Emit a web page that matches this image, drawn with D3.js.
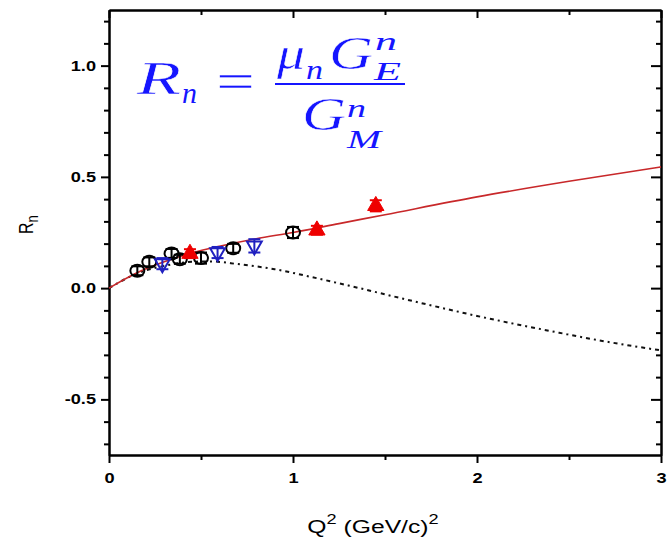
<!DOCTYPE html>
<html><head><meta charset="utf-8">
<script src="https://cdn.jsdelivr.net/npm/d3@7"></script>
<style>
body{margin:0;background:#fff;}
svg{display:block;}
.tick text{font-family:"Liberation Sans",Arial,sans-serif;font-weight:bold;font-size:14px;fill:#000;}
</style></head>
<body>
<svg id="c" width="668" height="541"></svg>
<script>
// ---- data ----
const xDomain = [0, 3];
const yDomain = [-0.75, 1.25];
const xMajorTicks = [0, 1, 2, 3];
const xMinorTicks = [0.5, 1.5, 2.5];
const yMajorTicks = [-0.5, 0.0, 0.5, 1.0];
const yMinorTicks = [-0.7,-0.6,-0.4,-0.3,-0.2,-0.1,0.1,0.2,0.3,0.4,0.6,0.7,0.8,0.9,1.1,1.2];

const circleQ2  = [0.154, 0.219, 0.340, 0.385, 0.500, 0.675, 1.000];
const circleR   = [0.078, 0.118, 0.156, 0.130, 0.135, 0.179, 0.250];
const circleErr = [0.020, 0.020, 0.020, 0.020, 0.025, 0.020, 0.025];

const triDownQ2  = [0.290, 0.590, 0.790];
const triDownR   = [0.110, 0.160, 0.190];
const triDownErr = [0.025, 0.025, 0.030];

const triUpQ2  = [0.440, 1.130, 1.450];
const triUpR   = [0.155, 0.260, 0.370];
const triUpErr = [0.020, 0.020, 0.025];

const fitQ2 = [0, 0.15, 0.30, 0.45, 0.60, 0.80, 1.00, 1.25, 1.50, 2.00, 2.50, 3.00];
const fitR  = [0, 0.068, 0.118, 0.158, 0.188, 0.222, 0.250, 0.290, 0.330, 0.410, 0.480, 0.545];

const modelQ2 = [0, 0.15, 0.30, 0.45, 0.55, 0.70, 0.90, 1.10, 1.30, 1.60, 2.00, 2.40, 2.70, 3.00];
const modelR  = [0, 0.065, 0.100, 0.118, 0.120, 0.108, 0.085, 0.050, 0.012, -0.048, -0.125, -0.193, -0.240, -0.280];

// ---- layout ----
const svg = d3.select("#c");
const L = 109, R = 661, T = 10, B = 455;
const SX = 1.3; // horizontal stretch of the original picture's text
const x = d3.scaleLinear().domain(xDomain).range([L, R]);
const y = d3.scaleLinear().domain(yDomain).range([B, T]);

function styleAxis(g){ g.select(".domain").attr("stroke","#000").attr("stroke-width",2);
  g.selectAll(".tick line").attr("stroke","#000").attr("stroke-width",2); }

const gx = svg.append("g").attr("transform",`translate(0,${B})`)
  .call(d3.axisBottom(x).tickValues(xMajorTicks).tickSize(8).tickSizeOuter(0).tickPadding(10).tickFormat(d3.format("d")));
styleAxis(gx);
gx.selectAll(".tick text").attr("transform",`scale(${SX},1)`);
const gxm = svg.append("g").attr("transform",`translate(0,${B})`)
  .call(d3.axisBottom(x).tickValues(xMinorTicks).tickSize(5).tickSizeOuter(0).tickFormat(""));
styleAxis(gxm);
const gxt = svg.append("g").attr("transform",`translate(0,${T})`)
  .call(d3.axisBottom(x).tickValues(xMajorTicks).tickSize(8).tickSizeOuter(0).tickFormat(""));
styleAxis(gxt);
const gxtm = svg.append("g").attr("transform",`translate(0,${T})`)
  .call(d3.axisBottom(x).tickValues(xMinorTicks).tickSize(5).tickSizeOuter(0).tickFormat(""));
styleAxis(gxtm);

const gy = svg.append("g").attr("transform",`translate(${L},0)`)
  .call(d3.axisLeft(y).tickValues(yMajorTicks).tickSize(8).tickSizeOuter(0).tickPadding(5).tickFormat(d3.format(".1f")));
styleAxis(gy);
gy.selectAll(".tick text").text(d => d3.format(".1f")(d).replace("−","-"))
  .attr("x", -13/SX).attr("transform",`scale(${SX},1)`);
const gym = svg.append("g").attr("transform",`translate(${L},0)`)
  .call(d3.axisLeft(y).tickValues(yMinorTicks).tickSize(5).tickSizeOuter(0).tickFormat(""));
styleAxis(gym);
const gyr = svg.append("g").attr("transform",`translate(${R},0)`)
  .call(d3.axisLeft(y).tickValues(yMajorTicks).tickSize(10).tickSizeOuter(0).tickFormat(""));
styleAxis(gyr);
const gyrm = svg.append("g").attr("transform",`translate(${R},0)`)
  .call(d3.axisLeft(y).tickValues(yMinorTicks).tickSize(5).tickSizeOuter(0).tickFormat(""));
styleAxis(gyrm);

// axis titles
const yl = svg.append("g").attr("transform",`translate(33,234) scale(${SX},1) rotate(-90)`)
  .append("text").attr("font-family","Liberation Sans, Arial, sans-serif").attr("font-size",16).attr("fill","#000");
yl.append("tspan").text("R");
yl.append("tspan").attr("font-size",13).attr("dy",4).text("n");

const xl = svg.append("g").attr("transform",`translate(373,533) scale(${SX},1)`)
  .append("text").attr("text-anchor","middle")
  .attr("font-family","Liberation Sans, Arial, sans-serif").attr("font-size",19).attr("fill","#000");
xl.append("tspan").text("Q");
xl.append("tspan").attr("font-size",14).attr("dy",-9).text("2");
xl.append("tspan").attr("dy",9).text(" (GeV/c)");
xl.append("tspan").attr("font-size",14).attr("dy",-9).text("2");

// lines
const line = d3.line().x(d=>x(d[0])).y(d=>y(d[1])).curve(d3.curveMonotoneX);
svg.append("path").datum(modelQ2.map((q,i)=>[q,modelR[i]]))
  .attr("d",line).attr("fill","none").attr("stroke","#111").attr("stroke-width",2)
  .attr("stroke-dasharray","4,4,2,4");
svg.append("path").datum(fitQ2.map((q,i)=>[q,fitR[i]]))
  .attr("d",line).attr("fill","none").attr("stroke","#c8282a").attr("stroke-width",1.6);

function errBars(qs, rs, es, color){
  const g = svg.append("g").attr("stroke",color).attr("stroke-width",2);
  qs.forEach((q,i)=>{
    const cx = x(q), y1 = y(rs[i]+es[i]), y2 = y(rs[i]-es[i]);
    g.append("line").attr("x1",cx).attr("x2",cx).attr("y1",y1).attr("y2",y2);
    g.append("line").attr("x1",cx-6).attr("x2",cx+6).attr("y1",y1).attr("y2",y1);
    g.append("line").attr("x1",cx-6).attr("x2",cx+6).attr("y1",y2).attr("y2",y2);
  });
}

// black open circles
errBars(circleQ2, circleR, circleErr, "#000");
svg.append("g").selectAll("ellipse").data(circleQ2).join("ellipse")
  .attr("cx",d=>x(d)).attr("cy",(d,i)=>y(circleR[i])).attr("rx",7).attr("ry",6)
  .attr("fill","none").attr("stroke","#000").attr("stroke-width",2);

// blue open down triangles
errBars(triDownQ2, triDownR, triDownErr, "#2020c0");
svg.append("g").selectAll("path").data(triDownQ2).join("path")
  .attr("d",d3.symbol().type(d3.symbolTriangle).size(95))
  .attr("transform",(d,i)=>`translate(${x(d)},${y(triDownR[i])}) rotate(180)`)
  .attr("fill","none").attr("stroke","#2020c0").attr("stroke-width",2);

// red filled up triangles
errBars(triUpQ2, triUpR, triUpErr, "#ee0000");
svg.append("g").selectAll("path").data(triUpQ2).join("path")
  .attr("d",d3.symbol().type(d3.symbolTriangle).size(115))
  .attr("transform",(d,i)=>`translate(${x(d)},${y(triUpR[i])})`)
  .attr("fill","#ee0000").attr("stroke","#ee0000").attr("stroke-width",1);

// formula
const blue = "#1515ff";
const ff = "Liberation Serif, Times New Roman, serif";
function t(xp, yp, s, size, italic, len){
  const el = svg.append("text").attr("x",xp).attr("y",yp).attr("font-family",ff)
    .attr("font-size",size).attr("font-style",italic?"italic":"normal").attr("fill",blue)
    .attr("textLength",len).attr("lengthAdjust","spacingAndGlyphs").text(s);
  if (size >= 40) el.attr("stroke","#fff").attr("stroke-width",0.5);
  return el;
}
t(137, 94, "R", 46, true, 44);
t(182, 103, "n", 30, true, 15);
t(216, 99, "=", 52, false, 39);
t(277, 69, "μ", 46, true, 28);
t(306, 79, "n", 28, true, 17);
t(329, 69, "G", 46, true, 44);
t(375, 50, "n", 26, true, 22);
t(374, 80, "E", 26, true, 27);
svg.append("line").attr("x1",275).attr("x2",405).attr("y1",84).attr("y2",84)
  .attr("stroke",blue).attr("stroke-width",2);
t(302, 130, "G", 46, true, 44);
t(347, 117, "n", 26, true, 19);
t(347, 148, "M", 26, true, 34);
</script>
</body></html>
